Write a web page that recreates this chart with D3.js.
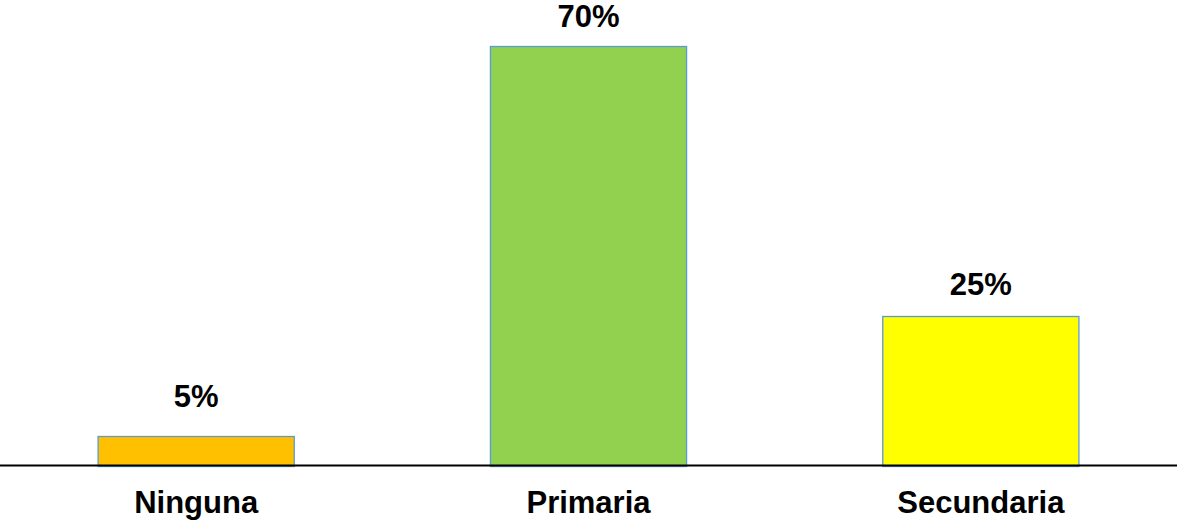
<!DOCTYPE html>
<html>
<head>
<meta charset="utf-8">
<script src="https://cdn.jsdelivr.net/npm/d3@7"></script>
<style>
  html, body { margin: 0; padding: 0; background: #ffffff; }
  svg { display: block; }
  text { font-family: "Liberation Sans", Arial, sans-serif; font-weight: bold; fill: #000; }
</style>
</head>
<body>
<svg id="chart" width="1177" height="521"></svg>
<script>
// Nivel de escolaridad
const categories = ["Ninguna", "Primaria", "Secundaria"];
const values = [5, 70, 25];
const valueLabels = ["5%", "70%", "25%"];
const colors = ["#FFC000", "#92D050", "#FFFF00"];

const width = 1177, height = 521;
const baseY = 466.5;

const svg = d3.select("#chart");

const x = d3.scaleBand()
  .domain(categories)
  .range([0, width])
  .paddingInner(0.5)
  .paddingOuter(0.25);

const y = d3.scaleLinear()
  .domain([0, 70])
  .range([baseY, 46.5]);

// bars
svg.append("g")
  .selectAll("rect")
  .data(categories)
  .join("rect")
  .attr("x", d => x(d))
  .attr("y", (d, i) => y(values[i]))
  .attr("width", x.bandwidth())
  .attr("height", (d, i) => y(0) - y(values[i]))
  .attr("fill", (d, i) => colors[i])
  .attr("stroke", "#5B9BD5")
  .attr("stroke-width", 1.3);

// category axis line
svg.append("line")
  .attr("x1", 0)
  .attr("x2", width)
  .attr("y1", baseY - 1)
  .attr("y2", baseY - 1)
  .attr("stroke", "#000")
  .attr("stroke-width", 2.2);

// value labels above bars
const labelGap = [30, 20, 21.5];
svg.append("g")
  .selectAll("text")
  .data(categories)
  .join("text")
  .attr("x", d => x(d) + x.bandwidth() / 2)
  .attr("y", (d, i) => y(values[i]) - labelGap[i])
  .attr("text-anchor", "middle")
  .attr("font-size", 31)
  .text((d, i) => valueLabels[i]);

// category labels
svg.append("g")
  .selectAll("text")
  .data(categories)
  .join("text")
  .attr("x", d => x(d) + x.bandwidth() / 2)
  .attr("y", 513)
  .attr("text-anchor", "middle")
  .attr("font-size", 31)
  .text(d => d);
</script>
</body>
</html>
